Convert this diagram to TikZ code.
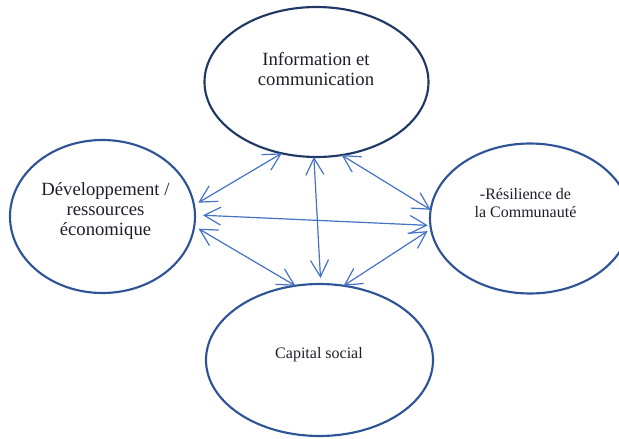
\documentclass[tikz,border=0pt]{standalone}
\usepackage{fontspec}
\setmainfont{Liberation Serif}
\usetikzlibrary{arrows.meta,shapes.geometric}
\definecolor{ringdark}{HTML}{203864}
\definecolor{ringblue}{HTML}{2F5496}
\definecolor{linkblue}{HTML}{4472C4}
\definecolor{labelink}{HTML}{1E1E2A}

\begin{document}
\begin{tikzpicture}[x=0.75pt,y=-0.75pt,
  ring/.style={ellipse,draw=ringblue,line width=1.6pt,inner sep=0pt,outer sep=0pt},
  barb/.tip={Straight Barb[length=12.5pt,width=13.5pt]},
  link/.style={draw=linkblue,line width=0.9pt,barb-barb},
  caption/.style={text=labelink,align=center,inner sep=0pt}
]
\useasboundingbox (0,0) rectangle (619,439);
\clip (0,0) rectangle (619,439);

% the four themes
\node[ring,draw=ringdark,minimum width=168pt,minimum height=112.5pt] (info) at (316.5,82) {};
\node[ring,minimum width=138.75pt,minimum height=114.75pt] (dev) at (102.5,216.5) {};
\node[ring,minimum width=150pt,minimum height=112.5pt] (res) at (530,218.5) {};
\node[ring,minimum width=170.25pt,minimum height=114pt] (cap) at (319.5,360) {};

% their labels
\node[caption,font=\fontsize{14}{15.5}\selectfont] (infotxt) at (316,69) {Information et\\communication};
\node[caption,font=\fontsize{14}{15}\selectfont] (devtxt) at (105.5,210.6) {Développement /\\ressources\\économique};
\node[caption,font=\fontsize{12}{13.5}\selectfont] (restxt) at (525.5,203) {-Résilience de\\la Communauté};
\node[caption,font=\fontsize{12}{14}\selectfont] (captxt) at (319,354.6) {Capital social};

% two-way links
\draw[link,shorten >=3.75pt] (info.244) -- (dev.7);
\draw[link,shorten >=4.5pt] (info.268) -- (cap.89);
\draw[link] (info.289) -- (res.175);
\draw[link,shorten <=6pt,shorten >=2pt] (dev.1) -- (res.184);
\draw[link,shorten <=3.75pt] (dev.354) -- (cap.108);
\draw[link,shorten >=3pt] (cap.72) -- (res.186);
\end{tikzpicture}
\end{document}
